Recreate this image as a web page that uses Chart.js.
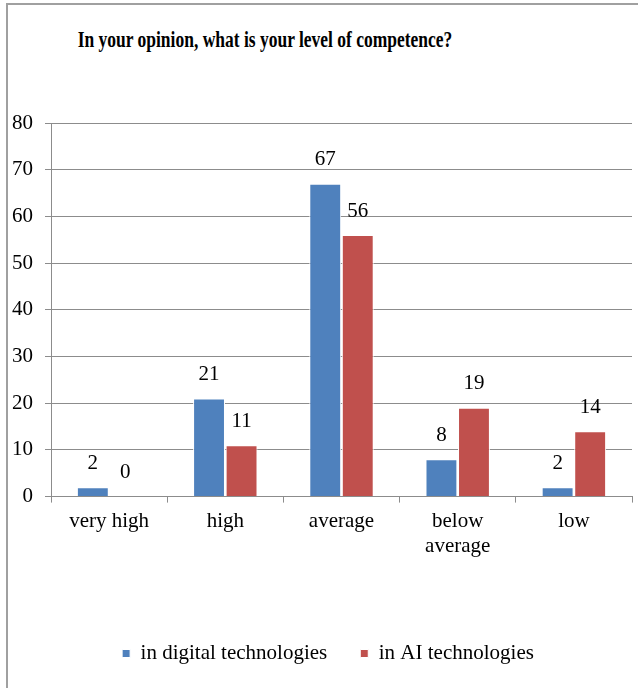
<!DOCTYPE html>
<html>
<head>
<meta charset="utf-8">
<script src="https://cdn.jsdelivr.net/npm/chart.js@4/dist/chart.umd.min.js"></script>
<style>
  body { margin: 0; background: #fff; }
  #frame { position: absolute; left: 6px; top: 3px; width: 640px; height: 700px;
           border-left: 2px solid #a0a0a0; border-top: 2px solid #a0a0a0; }
  #title { position: absolute; left: 0; width: 530px; top: 27px; text-align: center; line-height: 1;
           font: bold 23px "Liberation Serif", "Times New Roman", serif; color: #000;
           transform: scaleX(0.76); transform-origin: 265px 0; white-space: nowrap; }
  #wrap { position: absolute; left: -2px; top: 60px; width: 640px; height: 625px; }
</style>
</head>
<body>
<div id="frame"></div>
<div id="title">In your opinion, what is your level of competence?</div>
<div id="wrap"><canvas id="chart"></canvas></div>
<script>
// competence survey data
const categories = ['very high', 'high', 'average', ['below', 'average'], 'low'];
const digitalValues = [2, 21, 67, 8, 2];
const aiValues = [0, 11, 56, 19, 14];
const yTicks = [0, 10, 20, 30, 40, 50, 60, 70, 80];

const serif = '"Liberation Serif", "Times New Roman", serif';

// value labels over each bar
const barLabels = {
    id: 'barLabels',
    afterDatasetsDraw(chart) {
        const ctx = chart.ctx;
        ctx.save();
        ctx.font = '21px ' + serif;
        ctx.fillStyle = '#000';
        ctx.textAlign = 'center';
        ctx.textBaseline = 'middle';
        chart.data.datasets.forEach((ds, i) => {
            chart.getDatasetMeta(i).data.forEach((bar, j) => {
                ctx.fillText(ds.data[j], bar.x, bar.y - 24);
            });
        });
        ctx.restore();
    }
};

// nudge the legend a bit right and up
const legendShift = {
    id: 'legendShift',
    afterLayout(chart) {
        const lg = chart.legend;
        lg.left += 12; lg.right += 12;
        lg.top -= 5; lg.bottom -= 5;
    }
};

new Chart(document.getElementById('chart'), {
    type: 'bar',
    data: {
        labels: categories,
        datasets: [{
            label: 'in digital technologies',
            data: digitalValues,
            backgroundColor: '#4F81BD',
            borderColor: '#ffffff',
            borderWidth: 1
        }, {
            label: 'in AI technologies',
            data: aiValues,
            backgroundColor: '#C0504D',
            borderColor: '#ffffff',
            borderWidth: 1
        }]
    },
    options: {
        responsive: true,
        maintainAspectRatio: false,
        animation: false,
        layout: { padding: { left: 2, right: 6, top: 63, bottom: 6 } },
        datasets: { bar: { categoryPercentage: 0.56, barPercentage: 0.98 } },
        scales: {
            x: {
                grid: { drawOnChartArea: false, offset: true, color: '#8c8c8c', tickLength: 6 },
                border: { color: '#8c8c8c' },
                ticks: { color: '#000', font: { family: serif, size: 21 }, padding: 6, maxRotation: 0 },
                afterFit(scale) { scale.height += 50; }
            },
            y: {
                min: 0, max: 80,
                grid: { color: '#8c8c8c', tickLength: 6 },
                border: { color: '#8c8c8c' },
                afterBuildTicks(scale) { scale.ticks = yTicks.map(v => ({ value: v })); },
                ticks: { color: '#000', font: { family: serif, size: 21 }, padding: 12 }
            }
        },
        plugins: {
            legend: {
                position: 'bottom',
                labels: { color: '#000', font: { family: serif, size: 21 }, boxWidth: 8, boxHeight: 8, padding: 33 }
            },
            tooltip: { enabled: false }
        }
    },
    plugins: [barLabels, legendShift]
});
</script>
</body>
</html>
